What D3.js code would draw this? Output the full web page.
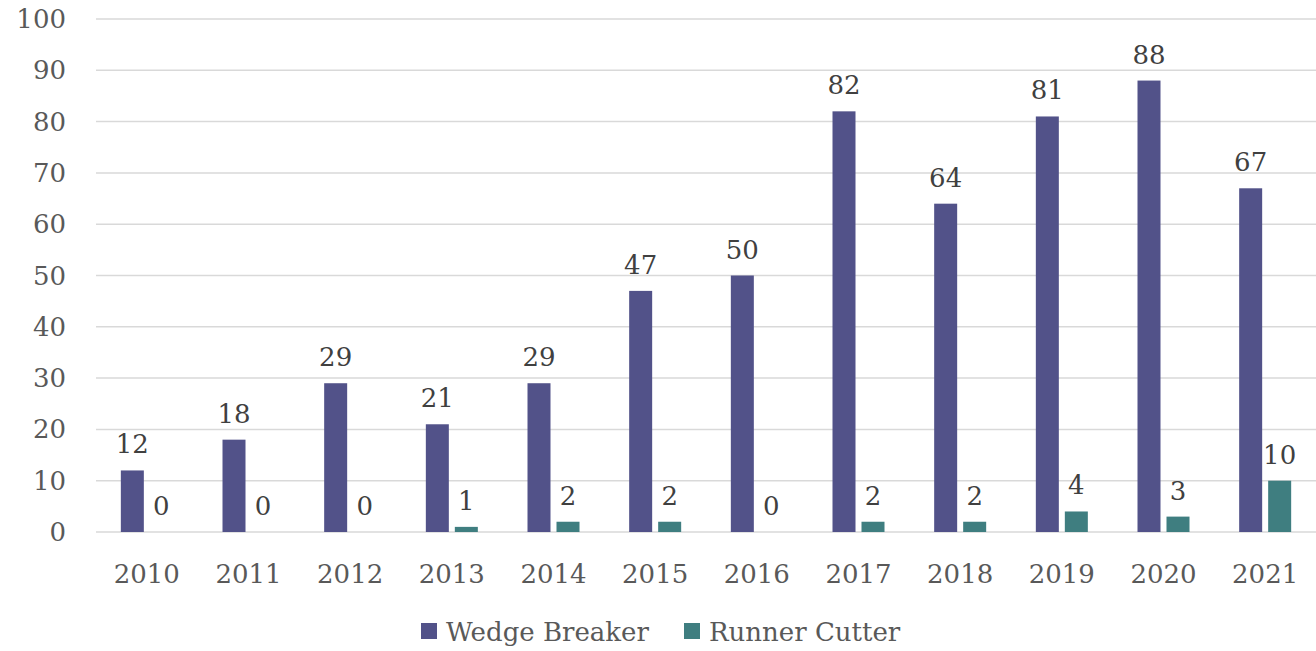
<!DOCTYPE html>
<html>
<head>
<meta charset="utf-8">
<script src="https://cdn.jsdelivr.net/npm/d3@7"></script>
<style>
  body { margin: 0; background: #fff; }
  svg text { font-family: Georgia, "DejaVu Serif", serif; }
</style>
</head>
<body>
<svg id="chart" width="1316" height="651"></svg>
<script>
const years = ['2010','2011','2012','2013','2014','2015','2016','2017','2018','2019','2020','2021'];
const wedgeBreaker = [12, 18, 29, 21, 29, 47, 50, 82, 64, 81, 88, 67];
const runnerCutter = [0, 0, 0, 1, 2, 2, 0, 2, 2, 4, 3, 10];
const yTicks = [0, 10, 20, 30, 40, 50, 60, 70, 80, 90, 100];

const series = [
    { name: 'Wedge Breaker', values: wedgeBreaker, color: '#525289' },
    { name: 'Runner Cutter', values: runnerCutter, color: '#3f7e80' }
];

const svg = d3.select('#chart');
const plotLeft = 96, plotRight = 1316, plotTop = 19, plotBottom = 532;
const fontSize = 26;

const x = d3.scaleBand().domain(years).range([plotLeft, plotRight]);
const y = d3.scaleLinear().domain([0, 100]).range([plotBottom, plotTop]);

const barW = 23, gap = 6;

// gridlines
svg.append('g')
    .selectAll('line')
    .data(yTicks)
    .join('line')
    .attr('x1', plotLeft)
    .attr('x2', plotRight)
    .attr('y1', d => y(d))
    .attr('y2', d => y(d))
    .attr('stroke', '#d9d9d9')
    .attr('stroke-width', 1.5);

// y labels
svg.append('g')
    .selectAll('text')
    .data(yTicks)
    .join('text')
    .attr('x', 66)
    .attr('y', d => y(d) + 9)
    .attr('text-anchor', 'end')
    .attr('font-size', fontSize)
    .attr('fill', '#595959')
    .text(d => d);

// x labels
svg.append('g')
    .selectAll('text')
    .data(years)
    .join('text')
    .attr('x', d => x(d) + x.bandwidth() / 2)
    .attr('y', 583)
    .attr('text-anchor', 'middle')
    .attr('font-size', fontSize)
    .attr('fill', '#595959')
    .text(d => d);

// bars + labels
series.forEach((s, si) => {
    const offset = si === 0 ? -gap / 2 - barW : gap / 2;
    const g = svg.append('g');
    g.selectAll('rect')
        .data(s.values)
        .join('rect')
        .attr('x', (d, i) => x(years[i]) + x.bandwidth() / 2 + offset)
        .attr('y', d => y(d))
        .attr('width', barW)
        .attr('height', d => plotBottom - y(d))
        .attr('fill', s.color);
    g.selectAll('text')
        .data(s.values)
        .join('text')
        .attr('x', (d, i) => x(years[i]) + x.bandwidth() / 2 + offset + barW / 2)
        .attr('y', d => y(d) - 17)
        .attr('text-anchor', 'middle')
        .attr('font-size', fontSize)
        .attr('fill', '#404040')
        .text(d => d);
});

// legend
const legend = svg.append('g');
const legendX = [421, 684];
series.forEach((s, i) => {
    legend.append('rect')
        .attr('x', legendX[i])
        .attr('y', 623)
        .attr('width', 16)
        .attr('height', 16)
        .attr('fill', s.color);
    legend.append('text')
        .attr('x', legendX[i] + 25)
        .attr('y', 641)
        .attr('font-size', fontSize)
        .attr('fill', '#595959')
        .text(s.name);
});
</script>
</body>
</html>
